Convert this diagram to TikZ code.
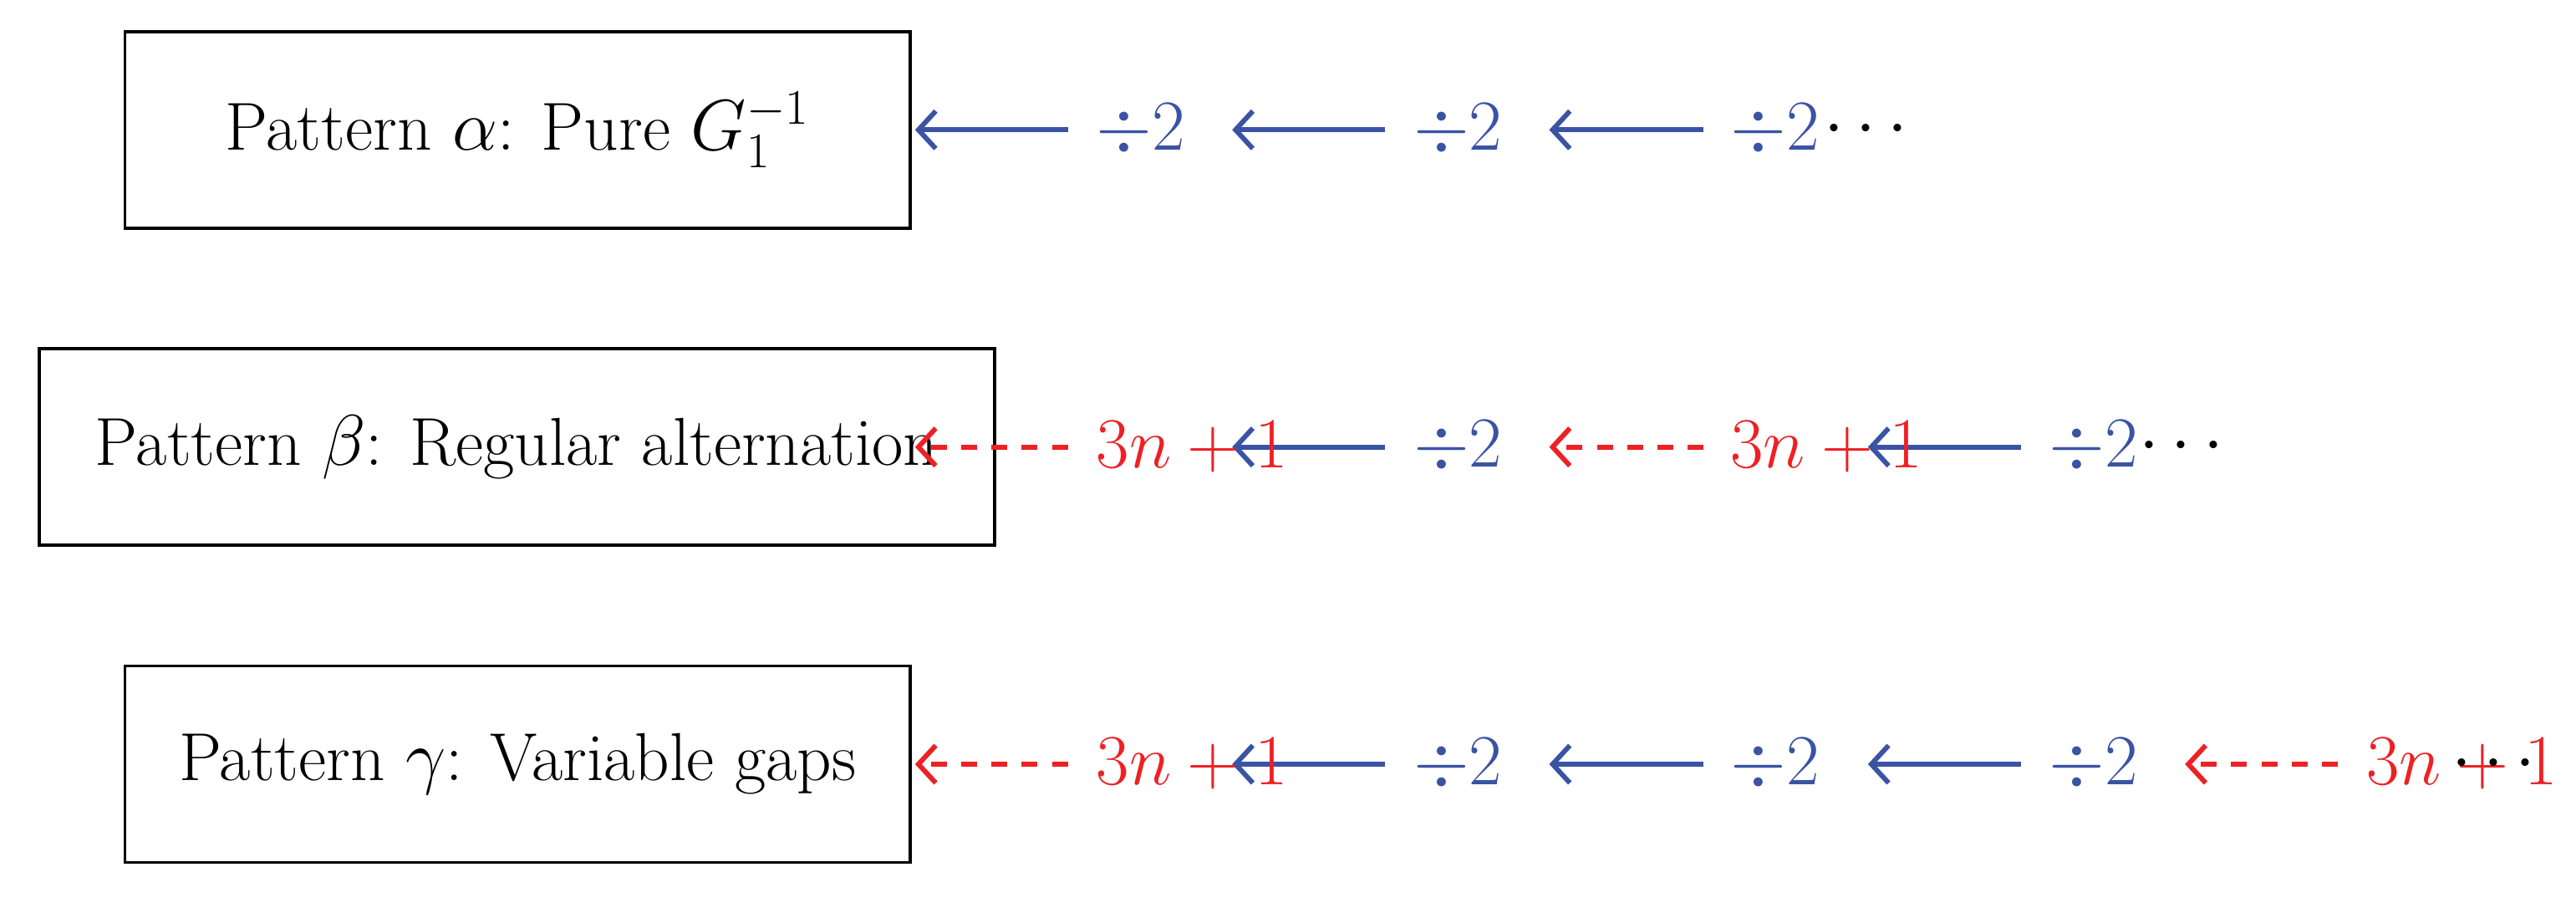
\documentclass[tikz,border=0pt]{standalone}
\usetikzlibrary{arrows.meta}
\definecolor{cblue}{HTML}{3A53A4}
\definecolor{cred}{HTML}{EE2024}
\begin{document}
\begin{tikzpicture}[x=0.02cm,y=-0.02cm,
  box/.style={draw,line width=1.1pt,inner sep=0pt,font=\fontsize{23.5}{28}\selectfont},
  lbl/.style={anchor=west,inner sep=0pt,font=\fontsize{23.5}{28}\selectfont},
  divarr/.style={cblue,line width=1.7pt,-{Straight Barb[length=6pt,width=13pt,line width=1.7pt]}},
  plusarr/.style={cred,line width=1.7pt,dash pattern=on 5.5pt off 5pt,-{Straight Barb[length=6pt,width=13pt,line width=1.7pt]}}]
\useasboundingbox (0,0) rectangle (1568,552);
% boxes
\node[box,minimum width=272pt,minimum height=68pt] (a) at (315,79) {Pattern $\alpha$: Pure $G_1^{-1}$};
\node[box,minimum width=331pt,minimum height=68pt] (b) at (314.5,272) {Pattern $\beta$: Regular alternation};
\node[box,minimum width=272pt,minimum height=68pt] (c) at (315,465) {Pattern $\gamma$: Variable gaps};
% row alpha
\coordinate (a0) at (557,79);
\foreach \i/\s in {1/650,2/843,3/1037}{\coordinate (as\i) at (\s,79);}
\coordinate (ae2) at (750,79); \coordinate (ae3) at (943,79);
\draw[divarr] (as1) -- (a0);
\draw[divarr] (as2) -- (ae2);
\draw[divarr] (as3) -- (ae3);
\node[lbl,cblue] (al1) at (667,79) {$\div 2$};
\node[lbl,cblue] (al2) at (860,79) {$\div 2$};
\node[lbl,cblue] (al3) at (1053,79) {$\div 2$};
\node[lbl] (ad) at (1110,79) {$\cdots$};
% row beta
\foreach \s/\e [count=\i] in {650/557,843/750,1037/943,1230/1137}{\coordinate (bs\i) at (\s,272);\coordinate (be\i) at (\e,272);}
\draw[plusarr] (bs1) -- (be1);
\draw[divarr] (bs2) -- (be2);
\draw[plusarr] (bs3) -- (be3);
\draw[divarr] (bs4) -- (be4);
\node[lbl,cred] (bl1) at (667,272) {$3n+1$};
\node[lbl,cblue] (bl2) at (860,272) {$\div 2$};
\node[lbl,cred] (bl3) at (1053,272) {$3n+1$};
\node[lbl,cblue] (bl4) at (1247,272) {$\div 2$};
\node[lbl] (bd) at (1302,272) {$\cdots$};
% row gamma
\foreach \s/\e [count=\i] in {650/557,843/750,1037/943,1230/1137,1423/1330}{\coordinate (cs\i) at (\s,465);\coordinate (ce\i) at (\e,465);}
\draw[plusarr] (cs1) -- (ce1);
\draw[divarr] (cs2) -- (ce2);
\draw[divarr] (cs3) -- (ce3);
\draw[divarr] (cs4) -- (ce4);
\draw[plusarr] (cs5) -- (ce5);
\node[lbl,cred] (cl1) at (667,465) {$3n+1$};
\node[lbl,cblue] (cl2) at (860,465) {$\div 2$};
\node[lbl,cblue] (cl3) at (1053,465) {$\div 2$};
\node[lbl,cblue] (cl4) at (1247,465) {$\div 2$};
\node[lbl,cred] (cl5) at (1440,465) {$3n+1$};
\node[lbl] (cd) at (1492,465) {$\cdots$};
\end{tikzpicture}
\end{document}
